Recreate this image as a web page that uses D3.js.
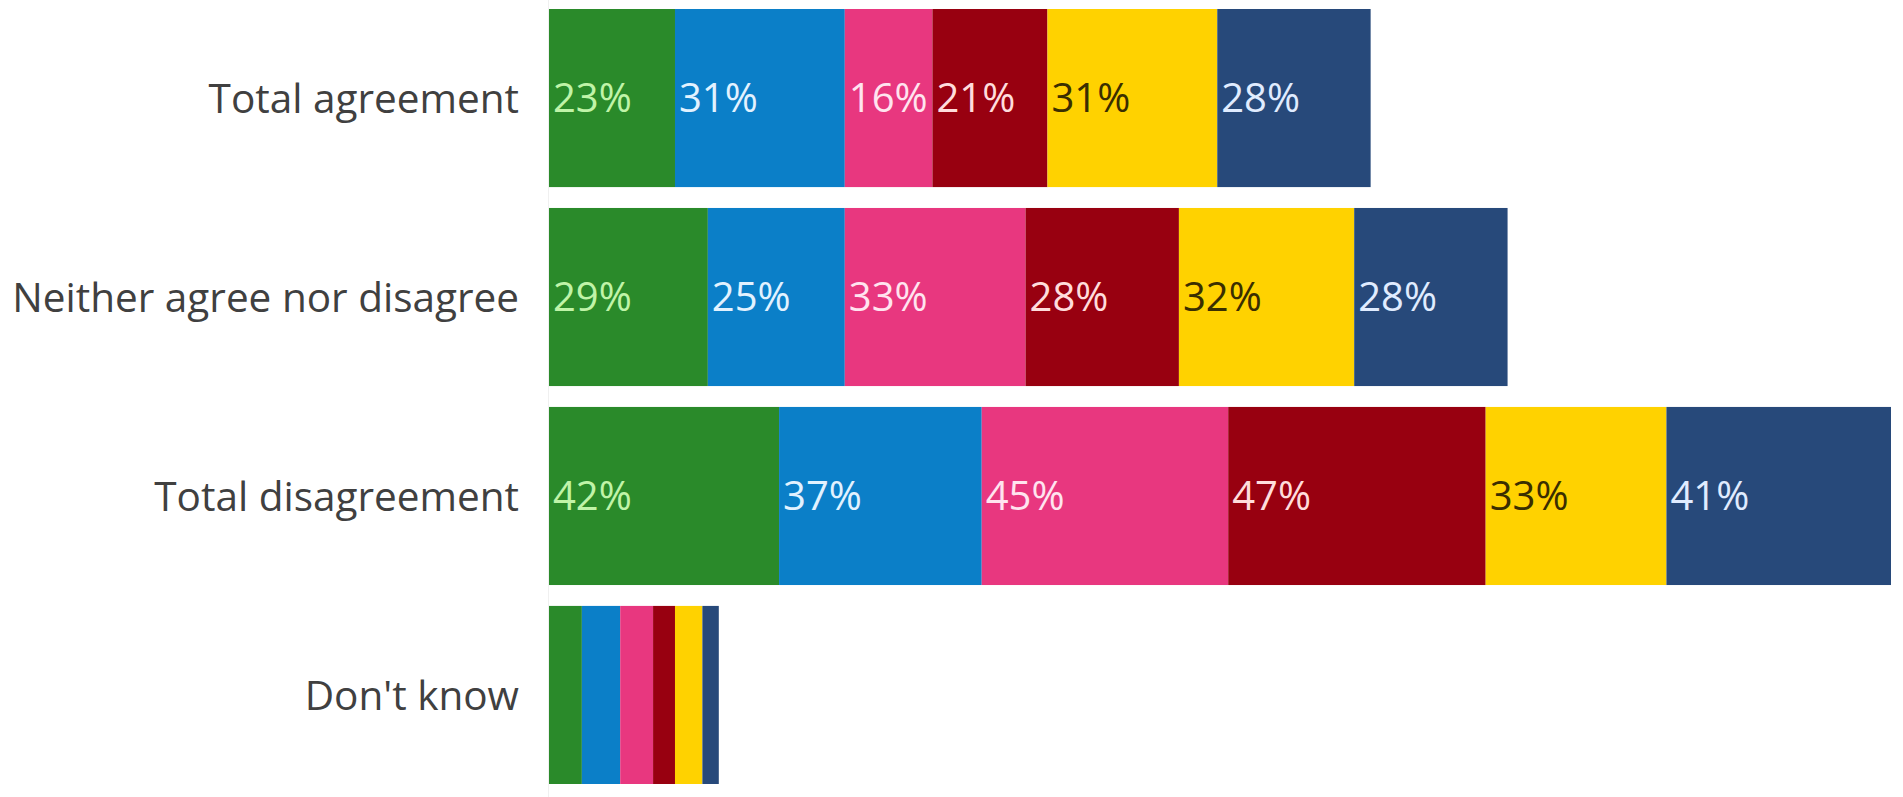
<!DOCTYPE html>
<html>
<head>
<meta charset="utf-8">
<script src="https://cdn.jsdelivr.net/npm/d3@7/dist/d3.min.js"></script>
<style>
  html, body { margin: 0; padding: 0; background: #ffffff; }
  svg { display: block; }
</style>
</head>
<body>
<svg id="chart" width="1903" height="797"></svg>
<script>
// Categories (rows)
const categories = ["Total agreement", "Neither agree nor disagree", "Total disagreement", "Don't know"];
// Series (stacked segments, left to right)
const seriesNames = ["S1", "S2", "S3", "S4", "S5", "S6"];
const s1 = [23, 29, 42, 6];
const s2 = [31, 25, 37, 7];
const s3 = [16, 33, 45, 6];
const s4 = [21, 28, 47, 4];
const s5 = [31, 32, 33, 5];
const s6 = [28, 28, 41, 3];
const seriesValues = [s1, s2, s3, s4, s5, s6];

const colors = ["#2a8a2a", "#0b7fc8", "#e8377f", "#980010", "#ffd200", "#27497a"];
const labelColors = ["#c0f4a8", "#e2f2ff", "#ffe4ef", "#ffdcdc", "#3a2e00", "#e0ecff"];

const svg = d3.select("#chart");
const W = 1903, H = 797;
const x0 = 549;

const rows = categories.map((c, i) => {
  const o = { category: c };
  seriesNames.forEach((s, j) => o[s] = seriesValues[j][i]);
  return o;
});

const stack = d3.stack().keys(seriesNames);
const stacked = stack(rows);

const x = d3.scaleLinear().domain([0, 245]).range([x0, 1891]);
const y = d3.scaleBand().domain(categories).range([9, 784]).paddingInner(0.105).paddingOuter(0);

// faint axis line
svg.append("line")
  .attr("x1", x0 - 0.5).attr("x2", x0 - 0.5)
  .attr("y1", 0).attr("y2", H)
  .attr("stroke", "#f0f0f0").attr("stroke-width", 1);

const groups = svg.selectAll("g.series").data(stacked).join("g")
  .attr("class", "series")
  .attr("fill", (d, i) => colors[i]);

groups.selectAll("rect").data(d => d).join("rect")
  .attr("x", d => x(d[0]))
  .attr("y", d => y(d.data.category))
  .attr("width", d => x(d[1]) - x(d[0]))
  .attr("height", y.bandwidth());

// value labels
stacked.forEach((layer, i) => {
  svg.append("g").selectAll("text").data(layer.filter(d => d[1] - d[0] >= 10)).join("text")
    .attr("x", d => x(d[0]) + 4)
    .attr("y", d => y(d.data.category) + y.bandwidth() / 2)
    .attr("dy", "0.36em")
    .attr("fill", labelColors[i])
    .style("font-family", "'Open Sans', 'Noto Sans', sans-serif")
    .style("font-size", "40px")
    .text(d => (d[1] - d[0]) + "%");
});

// category labels
const yAxis = d3.axisLeft(y).tickSize(0).tickPadding(0);
const ag = svg.append("g").attr("transform", `translate(${519},0)`).call(yAxis);
ag.select(".domain").remove();
ag.selectAll("text")
  .attr("fill", "#404040")
  .style("font-family", "'Open Sans', 'Noto Sans', sans-serif")
  .style("font-size", "40.5px")
  .attr("dy", "0.36em");
</script>
</body>
</html>
